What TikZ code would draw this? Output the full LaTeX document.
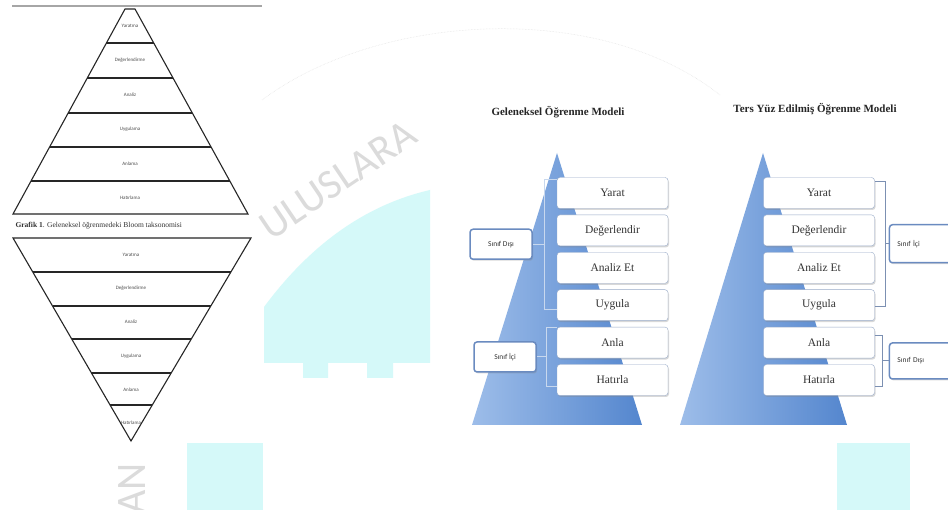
\documentclass[tikz,border=0pt]{standalone}
\usepackage{fontspec}
\setmainfont{Liberation Serif}
\newfontfamily\calibri{Carlito}
\usepackage{tikz}
\usetikzlibrary{positioning, calc, shadows}

\definecolor{triblue}{HTML}{5486CE}
\definecolor{trilight}{HTML}{9DBDE9}
\definecolor{boxedge}{HTML}{97A9C7}
\definecolor{labedge}{HTML}{6A8BC0}
\definecolor{brkpale}{HTML}{C8D8EE}
\definecolor{brkgray}{HTML}{7C90B2}
\definecolor{wmcyan}{HTML}{D5F9F9}

\begin{document}
\begin{tikzpicture}[x=1pt, y=-1pt,
    node distance=6pt,
    bloomline/.style={draw=black!85, line width=1.1pt},
    bloom/.style={font=\calibri\fontsize{5}{6}\selectfont, text=black!70, inner sep=0pt},
    stepbox/.style={rectangle, rounded corners=3pt, draw=boxedge, fill=white, minimum width=111pt, minimum height=31pt, inner sep=0pt, font=\fontsize{11.5}{12}\selectfont, text=black!80, drop shadow={opacity=0.3, shadow xshift=1pt, shadow yshift=-1.5pt}},
    sidebox/.style={rectangle, rounded corners=3pt, draw=labedge, line width=1.5pt, fill=white, minimum width=62pt, minimum height=30pt, inner sep=0pt, font=\calibri\fontsize{7.5}{8}\selectfont, text=black!80, drop shadow={opacity=0.3, shadow xshift=1pt, shadow yshift=-1.5pt}},
    sideR/.style={sidebox, text width=52pt, align=left, inner xsep=8pt},
    bracketL/.style={draw=brkpale, line width=0.9pt},
    bracketR/.style={draw=brkgray, line width=0.9pt},
    title/.style={font=\bfseries\fontsize{11}{12}\selectfont, text=black!85},
    wmtext/.style={font=\calibri\fontsize{42}{42}\selectfont, text=black!14}
]
\clip (0,0) rectangle (948,510);
\fill[white] (0,0) rectangle (948,510);

% watermark behind everything
\fill[wmcyan] (264,307) .. controls (310,245) and (365,205) .. (430,190) -- (430,363)
  -- (393,363) -- (393,378) -- (367,378) -- (367,363) -- (328,363) -- (328,378)
  -- (303,378) -- (303,363) -- (264,363) -- cycle;
\fill[wmcyan] (187,443) rectangle (263,510);
\fill[wmcyan] (837,443) rectangle (910,510);
\node[wmtext, rotate=34] (wmUlus) at (338,180) {ULUSLARA};
\node[wmtext, rotate=90, anchor=west] (wmAn) at (132,518) {AN};
\draw[black!12, densely dotted, line width=0.5pt] (262,100) .. controls (380,12) and (600,0) .. (720,95);

% Bloom pyramid
\draw[black!35, line width=2.5pt] (12,6) -- (262,6);
\coordinate (bTL) at (125,9);
\coordinate (bTR) at (135,9);
\coordinate (bBL) at (13,214);
\coordinate (bBR) at (248,214);
\draw[bloomline] (bTL) -- (bTR) -- (bBR) -- (bBL) -- cycle;
\foreach \yy in {43,78,113,147,181}
  \draw[bloomline] ($(bTL)!{(\yy-9)/205}!(bBL)$) -- ($(bTR)!{(\yy-9)/205}!(bBR)$);
\foreach \txt [count=\i] in {Yaratma, Değerlendirme, Analiz, Uygulama, Anlama, Hatırlama}
  \node[bloom] (bloomUp\i) at (130,{26+34.4*(\i-1)}) {\txt};

\node[anchor=west, font=\fontsize{7.5}{8}\selectfont, text=black!80] (bloomCap) at (12,226)
  {\textbf{Grafik 1}. Geleneksel öğrenmedeki Bloom taksonomisi};

% inverted pyramid
\coordinate (iTL) at (13,238);
\coordinate (iTR) at (251,238);
\coordinate (iB) at (131,441);
\draw[bloomline] (iTL) -- (iTR) -- (iB) -- cycle;
\foreach \yy in {272,306,339,373,405}
  \draw[bloomline] ($(iTL)!{(\yy-238)/203}!(iB)$) -- ($(iTR)!{(\yy-238)/203}!(iB)$);
\foreach \txt [count=\i] in {Yaratma, Değerlendirme, Analiz, Uygulama, Anlama, Hatırlama}
  \node[bloom] (bloomDn\i) at (131,{255+33.6*(\i-1)}) {\txt};

% Geleneksel model
\node[title] (gTitle) at (558,112) {Geleneksel Öğrenme Modeli};
\shade[left color=trilight, right color=triblue] (472,425) -- (557,153) -- (642,425) -- cycle;
\node[stepbox] (gYarat) at (612.5,193) {Yarat};
\node[stepbox, below=of gYarat] (gDeger) {Değerlendir};
\node[stepbox, below=of gDeger] (gAnaliz) {Analiz Et};
\node[stepbox, below=of gAnaliz] (gUygula) {Uygula};
\node[stepbox, below=of gUygula] (gAnla) {Anla};
\node[stepbox, below=of gAnla] (gHatirla) {Hatırla};

\coordinate (gDisiTop) at ($(gYarat.north west)+(-12,2)$);
\coordinate (gDisiBot) at ($(gUygula.west)+(-12,4)$);
\coordinate (gDisiMid) at ($(gDisiTop)!0.5!(gDisiBot)$);
\draw[bracketL] ($(gYarat.north west)+(0,2)$) -- (gDisiTop) -- (gDisiBot) -- ($(gUygula.west)+(0,4)$);
\node[sidebox, left=12pt of gDisiMid] (gDisi) {Sınıf Dışı};
\draw[bracketL] (gDisiMid) -- (gDisi);

\coordinate (gIciTop) at ($(gAnla.north west)+(-10,1)$);
\coordinate (gIciBot) at ($(gHatirla.west)+(-10,6)$);
\coordinate (gIciMid) at ($(gIciTop)!0.5!(gIciBot)$);
\draw[bracketL] ($(gAnla.north west)+(0,1)$) -- (gIciTop) -- (gIciBot) -- ($(gHatirla.west)+(0,6)$);
\node[sidebox, left=10pt of gIciMid] (gIci) {Sınıf İçi};
\draw[bracketL] (gIciMid) -- (gIci);

% Ters Yuz model
\node[title] (tTitle) at (815,109) {Ters Yüz Edilmiş Öğrenme Modeli};
\shade[left color=trilight, right color=triblue] (680,425) -- (763,153) -- (847,425) -- cycle;
\node[stepbox] (tYarat) at (819,193) {Yarat};
\node[stepbox, below=of tYarat] (tDeger) {Değerlendir};
\node[stepbox, below=of tDeger] (tAnaliz) {Analiz Et};
\node[stepbox, below=of tAnaliz] (tUygula) {Uygula};
\node[stepbox, below=of tUygula] (tAnla) {Anla};
\node[stepbox, below=of tAnla] (tHatirla) {Hatırla};

\coordinate (tIciTop) at ($(tYarat.north east)+(11,4)$);
\coordinate (tIciBot) at ($(tUygula.east)+(11,1)$);
\coordinate (tIciMid) at ($(tIciTop)!0.5!(tIciBot)$);
\draw[bracketR] ($(tYarat.north east)+(0,4)$) -- (tIciTop) -- (tIciBot) -- ($(tUygula.east)+(0,1)$);
\node[sideR, right=3pt of tIciMid, minimum height=38pt] (tIci) {Sınıf İçi};
\draw[bracketR] (tIciMid) -- (tIci);

\coordinate (tDisiTop) at ($(tAnla.north east)+(8,9)$);
\coordinate (tDisiBot) at ($(tHatirla.east)+(8,6)$);
\coordinate (tDisiMid) at ($(tDisiTop)!0.5!(tDisiBot)$);
\draw[bracketR] ($(tAnla.north east)+(0,9)$) -- (tDisiTop) -- (tDisiBot) -- ($(tHatirla.east)+(0,6)$);
\node[sideR, right=6pt of tDisiMid, minimum height=36pt] (tDisi) {Sınıf Dışı};
\draw[bracketR] (tDisiMid) -- (tDisi);

\end{tikzpicture}
\end{document}
